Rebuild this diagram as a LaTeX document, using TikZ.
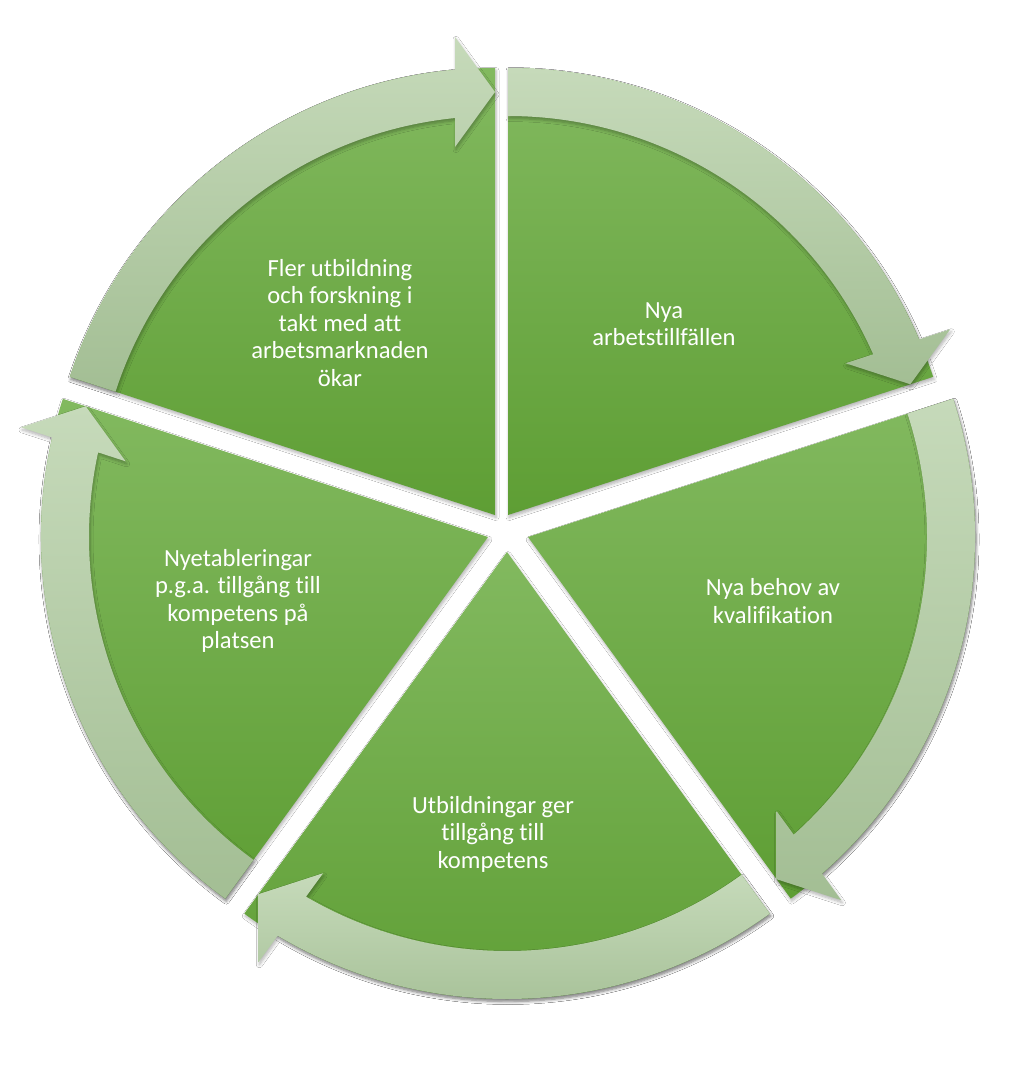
\documentclass[tikz,border=0pt]{standalone}
\usepackage{fontspec}
\setmainfont{Carlito}[Ligatures=NoCommon]
\usetikzlibrary{calc,shadows.blur}
\definecolor{wedgeTop}{HTML}{82B95F}
\definecolor{wedgeBot}{HTML}{5E9E34}
\definecolor{bandTop}{HTML}{C6DABA}
\definecolor{bandBot}{HTML}{A3BE94}
\tikzset{
  softshadow/.style={blur shadow={shadow xshift=1pt, shadow yshift=-2.5pt, shadow blur steps=6, shadow opacity=30, shadow blur radius=3pt}},
  wedgeshape/.style={top color=wedgeTop, bottom color=wedgeBot, draw=none, softshadow},
  bandshape/.style={top color=bandTop, bottom color=bandBot, draw=none, softshadow},
  seglabel/.style={text=white, align=center, font=\fontsize{24.6}{27.5}\selectfont, inner sep=0pt}
}
\newcommand{\cycsegment}[3]{%
  \shade[wedgeshape] (#1) -- ($(#1)+(#3:447)$) arc[start angle=#3, end angle=#2, radius=447] -- cycle;
  \shade[bandshape] ($(#1)+(#2:447)$) arc[start angle=#2, end angle={#3+5.134}, radius=447]
    -- ($(#1)+(#3:478)+({#3+90}:40)$) -- ($(#1)+(#3:423)$) -- ($(#1)+(#3:368)+({#3+90}:40)$)
    -- ($(#1)+({#3+5.754}:399)$) arc[start angle={#3+5.754}, end angle=#2, radius=399] -- cycle;
}
\begin{document}
\begin{tikzpicture}[x=1pt,y=1pt]
\useasboundingbox (0,0) rectangle (1016,-1066);
\fill[white] (0,0) rectangle (1016,-1066);
\coordinate (tl) at (495,-515);
\coordinate (tr) at (508,-515);
\coordinate (rr) at (528,-537);
\coordinate (bb) at (507,-552);
\coordinate (ll) at (488,-537);
\cycsegment{tl}{162}{90}
\cycsegment{tr}{90}{18}
\cycsegment{rr}{18}{-54}
\cycsegment{bb}{-54}{-126}
\cycsegment{ll}{234}{162}
\node[seglabel] (ttl) at (340,-323) {Fler utbildning\\och forskning i\\takt med att\\arbetsmarknaden\\ökar};
\node[seglabel] (ttr) at (664,-324) {Nya\\arbetstillfällen};
\node[seglabel] (trr) at (773,-601) {Nya behov av\\kvalifikation};
\node[seglabel] (tbb) at (493,-834) {Utbildningar ger\\tillgång till\\kompetens};
\node[seglabel] (tll) at (238,-601) {Nyetableringar\\p.g.a. tillgång till\\kompetens på\\platsen};
\end{tikzpicture}
\end{document}
